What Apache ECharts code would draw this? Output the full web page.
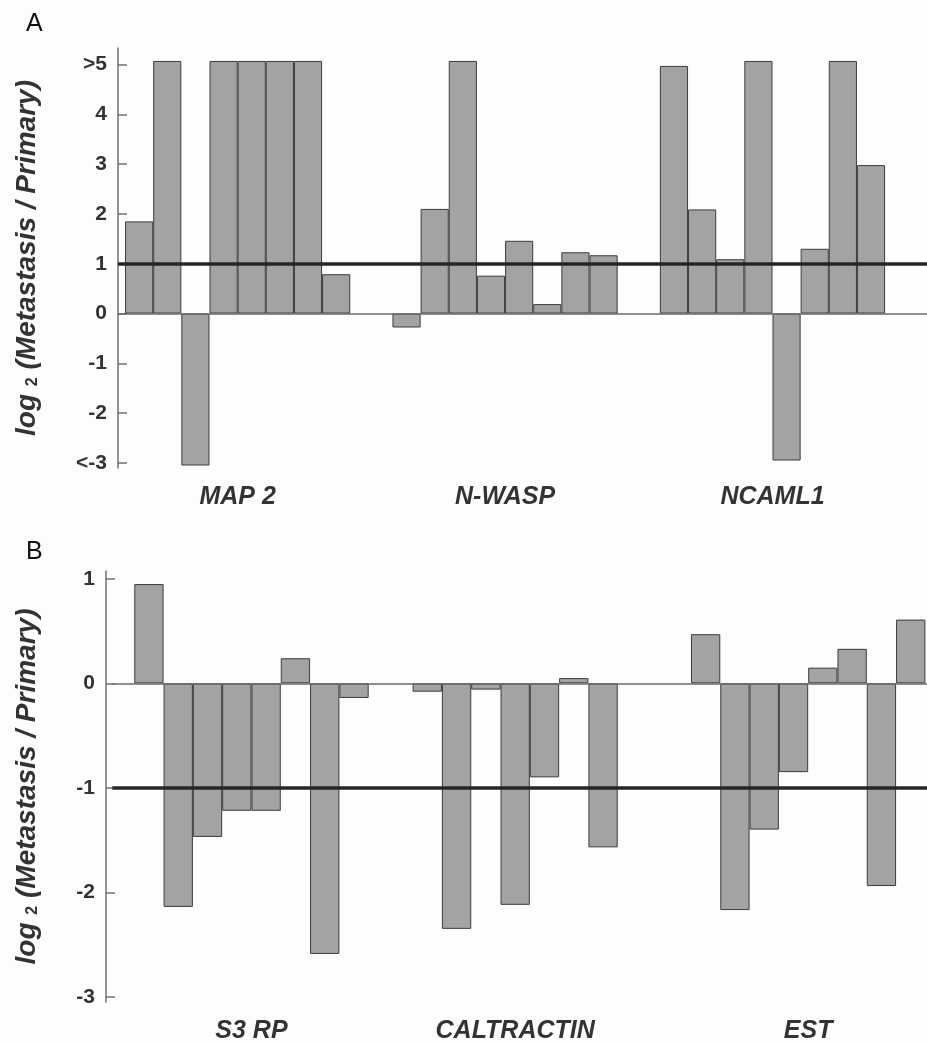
<!DOCTYPE html>
<html>
<head>
<meta charset="utf-8">
<script src="https://cdn.jsdelivr.net/npm/echarts@6/dist/echarts.min.js"></script>
<style>
  html, body { margin: 0; padding: 0; background: #fdfdfd; }
  #chart { width: 927px; height: 1045px; }
</style>
</head>
<body>
<div id="chart"></div>
<script>
// panel A values (>5 and <-3 bars are drawn just past the axis end)
const groupsA = ['MAP 2', 'N-WASP', 'NCAML1'];
const map2 = [1.85, 5.07, -3.05, 5.07, 5.07, 5.07, 5.07, 0.79];
const nwasp = [-0.28, 2.1, 5.07, 0.76, 1.46, 0.19, 1.23, 1.17];
const ncaml1 = [4.97, 2.09, 1.09, 5.07, -2.95, 1.30, 5.07, 2.98];
const ticksA = [-3, -2, -1, 0, 1, 2, 3, 4, 5];
const tickLabelsA = ['<-3', '-2', '-1', '0', '1', '2', '3', '4', '>5'];
const refA = 1;

// panel B values
const groupsB = ['S3 RP', 'CALTRACTIN', 'EST'];
const s3rp = [0.95, -2.14, -1.47, -1.22, -1.22, 0.24, -2.59, -0.14];
const caltractin = [-0.08, -2.35, -0.06, -2.12, -0.90, 0.05, -1.57];
const est = [0.47, -2.17, -1.40, -0.85, 0.15, 0.33, -1.94, 0.61];
const ticksB = [-3, -2, -1, 0, 1];
const tickLabelsB = ['-3', '-2', '-1', '0', '1'];
const refB = -1;

// layout: each bar takes two half-width slots, groups start at these slots
const slotsA = 58, startsA = [1, 20, 39], slotWA = 14.075;
const slotsB = 56, startsB = [2, 21, 40], slotWB = 14.65;

const FONT = "'Liberation Sans', Arial, sans-serif";

function buildSlots(n, starts, names, values) {
    let cats = new Array(n).fill('');
    let data = new Array(n).fill('-');
    values.forEach(function (vals, g) {
        vals.forEach(function (v, k) {
            data[starts[g] + 2 * k] = v;
        });
        cats[starts[g] + vals.length - 1] = names[g];
    });
    return { cats: cats, data: data };
}

const a = buildSlots(slotsA, startsA, groupsA, [map2, nwasp, ncaml1]);
const b = buildSlots(slotsB, startsB, groupsB, [s3rp, caltractin, est]);

function yAxisOf(idx, min, max, ticks, labels, gap, offset) {
    return {
        gridIndex: idx,
        type: 'value',
        min: min,
        max: max,
        offset: offset,
        splitLine: { show: false },
        axisLine: { show: true, lineStyle: { color: '#707070', width: 1.5 } },
        axisTick: { show: true, inside: true, length: 9, customValues: ticks,
            lineStyle: { color: '#707070', width: 1.5 } },
        axisLabel: {
            customValues: ticks,
            margin: 11,
            color: '#333',
            fontFamily: FONT,
            fontWeight: 'bold',
            fontSize: 21,
            formatter: function (v) {
                let i = ticks.indexOf(Math.round(v));
                return i >= 0 ? labels[i] : '';
            }
        },
        name: '{t|log }{s|2}{t| (Metastasis / Primary)}',
        nameLocation: 'middle',
        nameRotate: 90,
        nameGap: gap,
        nameTextStyle: {
            rich: {
                t: { fontFamily: FONT, fontWeight: 'bold', fontStyle: 'italic', fontSize: 28, color: '#333' },
                s: { fontFamily: FONT, fontWeight: 'bold', fontSize: 16, color: '#333', verticalAlign: 'bottom' }
            }
        }
    };
}

function xAxisOf(idx, cats) {
    return {
        gridIndex: idx,
        type: 'category',
        data: cats,
        position: 'bottom',
        axisLine: { show: false },
        axisTick: { show: false },
        axisLabel: {
            interval: 0,
            margin: 17,
            color: '#333',
            fontFamily: FONT,
            fontWeight: 'bold',
            fontStyle: 'italic',
            fontSize: 25
        }
    };
}

function barSeries(idx, data, width, ref) {
    return {
        type: 'bar',
        xAxisIndex: idx,
        yAxisIndex: idx,
        data: data,
        barWidth: width,
        itemStyle: { color: '#a3a3a3', borderColor: '#3c3c3c', borderWidth: 1 },
        markLine: {
            silent: true,
            symbol: 'none',
            label: { show: false },
            data: [
                { yAxis: 0, lineStyle: { color: '#6a6a6a', width: 1.5, type: 'solid' } },
                { yAxis: ref, lineStyle: { color: '#262626', width: 3.5, type: 'solid' } }
            ]
        }
    };
}

let chart = echarts.init(document.getElementById('chart'), null, { renderer: 'canvas' });
let option = {
    backgroundColor: '#fdfdfd',
    animation: false,
    grid: [
        { left: 118, top: 48, width: slotsA * slotWA, height: 420, outerBoundsMode: 'none', containLabel: false },
        { left: 112.3, top: 571, width: slotsB * slotWB, height: 431, outerBoundsMode: 'none', containLabel: false }
    ],
    xAxis: [xAxisOf(0, a.cats), xAxisOf(1, b.cats)],
    yAxis: [
        yAxisOf(0, -3.10, 5.33, ticksA, tickLabelsA, 77, 0),
        yAxisOf(1, -3.05, 1.075, ticksB, tickLabelsB, 65, 6.3)
    ],
    series: [
        barSeries(0, a.data, 2 * slotWA, refA),
        barSeries(1, b.data, 2 * slotWB, refB)
    ],
    graphic: [
        { type: 'text', left: 26, top: 12, style: { text: 'A', fontFamily: 'Liberation Sans, Arial, sans-serif', fontSize: 25, fill: '#111' } },
        { type: 'text', left: 26, top: 540, style: { text: 'B', fontFamily: 'Liberation Sans, Arial, sans-serif', fontSize: 25, fill: '#111' } }
    ]
};
chart.setOption(option);
window.addEventListener('resize', function () {
    chart.resize();
});
</script>
</body>
</html>
